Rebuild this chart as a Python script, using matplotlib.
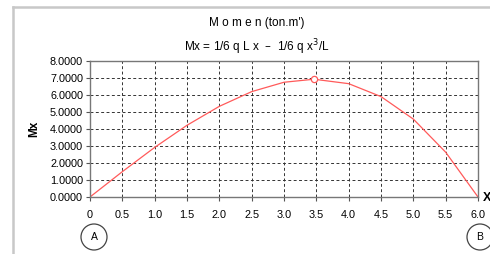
import matplotlib.pyplot as plt
from matplotlib.patches import Ellipse
from matplotlib.lines import Line2D

plt.rcParams['font.family'] = ['Liberation Sans', 'DejaVu Sans']

x = [0, 0.5, 1.0, 1.5, 2.0, 2.5, 3.0, 3.464, 4.0, 4.5, 5.0, 5.5, 6.0]
mx = [0.0, 1.49, 2.917, 4.219, 5.333, 6.198, 6.75, 6.928, 6.667, 5.906, 4.583, 2.635, 0.0]
x_max = [3.464]
mx_max = [6.928]
xticks = [0, 0.5, 1.0, 1.5, 2.0, 2.5, 3.0, 3.5, 4.0, 4.5, 5.0, 5.5, 6.0]
xlabels = ["0", "0.5", "1.0", "1.5", "2.0", "2.5", "3.0", "3.5", "4.0", "4.5", "5.0", "5.5", "6.0"]
yticks = [0, 1, 2, 3, 4, 5, 6, 7, 8]

fig = plt.figure(figsize=(4.9, 2.54), dpi=100)
ax = fig.add_axes([90/490, 1-197/254, 388/490, 136/254])

ax.plot(x, mx, color="#ff5a5a", linewidth=0.9)
ax.plot(x_max, mx_max, marker="o", markersize=4.5, markerfacecolor="white",
        markeredgecolor="#ff5a5a", markeredgewidth=0.9, linestyle="none")

ax.set_xlim(0, 6)
ax.set_ylim(0, 8)
ax.set_xticks(xticks)
ax.set_xticklabels(xlabels)
ax.set_yticks(yticks)
ax.set_yticklabels(["%.4f" % v for v in yticks])
ax.tick_params(labelsize=7.8, length=3, width=0.8, color="#555555", pad=2)
ax.tick_params(axis="x", pad=6)
ax.grid(True, linestyle=(0, (3, 2.5)), color="#333333", linewidth=0.7)
for s in ax.spines.values():
    s.set_color("#777777")
    s.set_linewidth(1.0)

ax.set_ylabel("Mx", fontsize=8.5, fontweight="bold", labelpad=7)

fig.text(257/490, 1-23/254, "M o m e n (ton.m')", ha="center", va="center", fontsize=8.5)
fig.text(257/490, 1-47/254, "Mx = 1/6 q L x  \u2013  1/6 q x$^3$/L", ha="center", va="center", fontsize=8.5)
fig.text(483/490, 1-198/254, "X", ha="left", va="center", fontsize=9, fontweight="bold")

# supports A and B
for cx, lab in [(94, "A"), (480, "B")]:
    fig.patches.append(Ellipse((cx/490, 1-237/254), 26/490, 26/254, transform=fig.transFigure,
                               fill=False, edgecolor="#444444", linewidth=0.9))
    fig.text(cx/490, 1-237/254, lab, ha="center", va="center", fontsize=7.5)

# outer frame
fig.add_artist(Line2D([13/490, 13/490], [0, 1-7/254], transform=fig.transFigure,
                      color="#c8c8c8", linewidth=1.8))
fig.add_artist(Line2D([13/490, 1], [1-7/254, 1-7/254], transform=fig.transFigure,
                      color="#c8c8c8", linewidth=1.8))

fig.savefig("out.png", dpi=100)
